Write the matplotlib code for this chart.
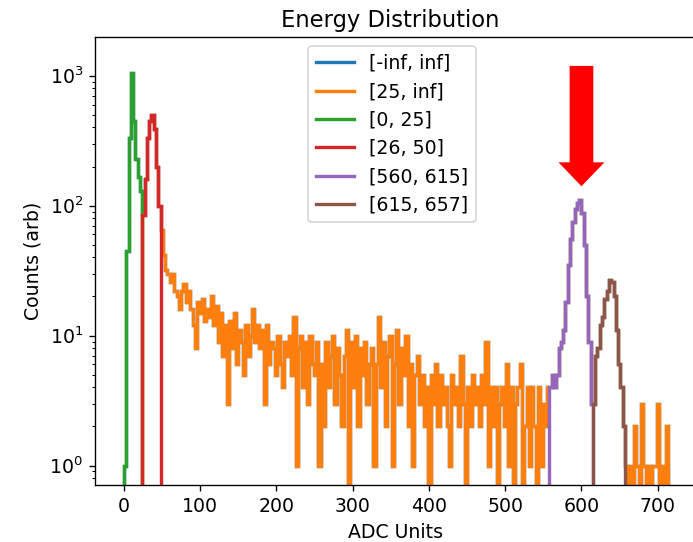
import matplotlib.pyplot as plt
import numpy as np

# histogram counts on a common 3-ADC grid starting at 0
bin_width = 3
green_counts = [1, 45, 330, 1050, 450, 230, 165, 130]                  # 0 - 24
red_counts = [85, 160, 330, 450, 500, 390, 200, 100]                   # 24 - 48
orange_mid = [                                                          # 48 - 558
    65, 42, 32, 30, 26, 30, 22, 20, 16, 22, 25, 18, 22, 16, 12, 8, 18,
    15, 19, 13, 16, 14, 20, 12, 17, 9, 15, 7, 12, 3, 13, 8, 15, 6, 11,
    9, 5, 12, 7, 10, 16, 9, 12, 8, 11, 3, 12, 6, 9,
    8, 5, 10, 6, 4, 9, 7, 10, 5, 14, 1, 8, 10, 4, 9, 3, 10, 6, 5, 9, 1,
    6, 2, 9, 4, 7, 10, 3, 8, 5, 2, 7, 11, 0, 9, 4, 10,
    2, 8, 5, 9, 3, 6, 8, 1, 6, 14, 4,
    9, 2, 7, 10, 1, 6, 11, 3, 8, 5, 10, 2, 6,
    1, 5, 7, 3, 5, 2, 4, 0, 5, 3, 6, 2, 5, 3, 4, 2, 1, 5, 3, 4, 2, 7,
    3, 0, 4, 2, 5, 3, 4, 2, 5, 3, 9, 1, 4, 2, 4, 0, 3,
    4, 2, 6, 1, 4, 0, 3, 4, 6, 0, 2, 4, 1, 4, 2, 0, 4, 1, 3, 2, 4,
]
purple_counts = [4, 5, 4, 5, 8, 9, 11, 18, 35, 55, 75, 95, 105, 110,    # 558 - 615
                 88, 50, 20, 9, 3]
brown_counts = [3, 7, 8, 12, 14, 19, 22, 27, 26, 20, 11, 6, 4, 2]      # 615 - 657
orange_tail = [1, 0, 1, 0, 2, 1, 0, 3, 1, 0, 1, 0, 1, 1, 3, 0, 1, 0, 2]  # 657 - 714

labels = ['[-inf, inf]', '[25, inf]', '[0, 25]', '[26, 50]',
          '[560, 615]', '[615, 657]']
colors = ['C0', 'C1', 'C2', 'C3', 'C4', 'C5']

orange_counts = red_counts + orange_mid + purple_counts + brown_counts + orange_tail
all_counts = green_counts + orange_counts
edges = np.arange(len(all_counts) + 1) * bin_width

red_start = len(green_counts)
purple_start = red_start + len(red_counts) + len(orange_mid)
brown_start = purple_start + len(purple_counts)

series = [
    (all_counts, 0),
    (orange_counts, red_start),
    (green_counts, 0),
    (red_counts, red_start),
    (purple_counts, purple_start),
    (brown_counts, brown_start),
]

plt.rcParams['font.size'] = 11.2

dpi = 121.3
fig = plt.figure(figsize=(693 / dpi, 542 / dpi), dpi=dpi)
ax = fig.add_axes([95 / 693, 1 - 485 / 542, 610 / 693, 448.3 / 542])

for (counts, start), label, color in zip(series, labels, colors):
    ax.stairs(counts, edges[start:start + len(counts) + 1], color=color,
              linewidth=2.0, label=label)

ax.set_yscale('log')
ax.set_xlim(-38, 762)
ax.set_ylim(10 ** -0.15, 10 ** 3.30)

ax.annotate('', xy=(600, 141), xytext=(600, 1189),
            arrowprops=dict(arrowstyle='simple,head_length=0.52,head_width=1.0,tail_width=0.515',
                            color='red', lw=0, mutation_scale=27.3,
                            shrinkA=0, shrinkB=0))

ax.set_title("Energy Distribution", x=(390 - 95) / 610)
ax.set_xlabel("ADC Units", x=(395 - 95) / 610)
ax.set_ylabel("Counts (arb)")
ax.legend(loc='upper center', bbox_to_anchor=((392 - 95) / 610, 1.0))

fig.savefig('out.png', dpi=dpi)
